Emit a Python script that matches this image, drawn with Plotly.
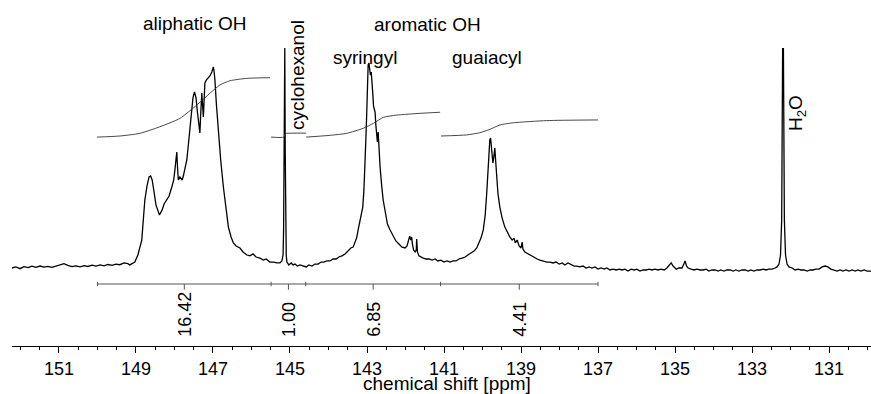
import plotly.graph_objects as go

# ---------------- data (chemical shift in ppm, intensity in arbitrary units) ----------------
ppm = [
    152.22, 152.12, 152.01, 151.91, 151.80, 151.70, 151.60, 151.49, 151.39, 151.29,
    151.18, 151.08, 150.97, 150.87, 150.77, 150.66, 150.56, 150.45, 150.35, 150.25,
    150.14, 150.04, 149.93, 149.83, 149.73, 149.62, 149.52, 149.42, 149.31, 149.21,
    149.16, 149.03, 148.95, 148.85, 148.82, 148.77, 148.71, 148.66, 148.62, 148.58,
    148.53, 148.48, 148.39, 148.32, 148.27, 148.20, 148.14, 148.07, 148.02, 147.99,
    147.94, 147.92, 147.90, 147.86, 147.80, 147.77, 147.73, 147.68, 147.64, 147.60,
    147.56, 147.52, 147.48, 147.44, 147.41, 147.37, 147.34, 147.32, 147.29, 147.27,
    147.25, 147.23, 147.21, 147.17, 147.12, 147.08, 147.03, 147.01, 146.99, 146.97,
    146.95, 146.91, 146.86, 146.80, 146.73, 146.66, 146.60, 146.53, 146.47, 146.40,
    146.30, 146.22, 146.12, 146.04, 145.96, 145.88, 145.78, 145.69, 145.62, 145.52,
    145.42, 145.34, 145.26, 145.21, 145.18, 145.166, 145.155, 145.145, 145.135, 145.124,
    145.114, 145.098, 145.08, 145.03, 144.97, 144.92, 144.87, 144.81, 144.74, 144.66,
    144.58, 144.51, 144.43, 144.35, 144.27, 144.19, 144.12, 144.04, 143.96, 143.88,
    143.80, 143.73, 143.65, 143.57, 143.49, 143.42, 143.36, 143.31, 143.27, 143.23,
    143.19, 143.16, 143.11, 143.08, 143.05, 143.03, 143.01, 142.99, 142.97, 142.95,
    142.93, 142.91, 142.89, 142.87, 142.85, 142.83, 142.81, 142.79, 142.77, 142.75,
    142.73, 142.71, 142.69, 142.66, 142.62, 142.58, 142.52, 142.47, 142.40, 142.32,
    142.25, 142.17, 142.09, 142.01, 141.96, 141.92, 141.89, 141.86, 141.84, 141.82,
    141.79, 141.75, 141.72, 141.71, 141.69, 141.65, 141.60, 141.54, 141.47, 141.39,
    141.31, 141.23, 141.16, 141.08, 141.00, 140.92, 140.84, 140.77, 140.69, 140.61,
    140.53, 140.45, 140.38, 140.30, 140.22, 140.15, 140.09, 140.04, 139.98, 139.93,
    139.89, 139.86, 139.83, 139.81, 139.79, 139.77, 139.73, 139.71, 139.68, 139.66,
    139.63, 139.60, 139.55, 139.49, 139.42, 139.35, 139.29, 139.23, 139.18, 139.15,
    139.10, 139.05, 139.00, 138.97, 138.95, 138.90, 138.82, 138.74, 138.66, 138.58,
    138.51, 138.43, 138.33, 138.25, 138.17, 138.09, 138.01, 137.93, 137.86, 137.78,
    137.70, 137.62, 137.55, 137.47, 137.39, 137.31, 137.23, 137.16, 137.08, 137.00,
    136.92, 136.84, 136.77, 136.69, 136.61, 136.53, 136.45, 136.38, 136.30, 136.22,
    136.14, 136.06, 135.99, 135.91, 135.83, 135.75, 135.67, 135.60, 135.52, 135.44,
    135.36, 135.28, 135.21, 135.16, 135.10, 135.05, 134.97, 134.90, 134.82, 134.77,
    134.74, 134.70, 134.66, 134.58, 134.51, 134.43, 134.35, 134.27, 134.19, 134.12,
    134.04, 133.96, 133.88, 133.81, 133.73, 133.65, 133.57, 133.49, 133.42, 133.34,
    133.26, 133.18, 133.10, 133.03, 132.95, 132.87, 132.79, 132.71, 132.64, 132.56,
    132.48, 132.40, 132.35, 132.30, 132.26, 132.23, 132.22, 132.205, 132.185, 132.175,
    132.16, 132.13, 132.09, 132.04, 131.96, 131.88, 131.80, 131.73, 131.65, 131.57,
    131.49, 131.42, 131.34, 131.26, 131.18, 131.10, 131.03, 130.95, 130.87, 130.79,
    130.71, 130.64, 130.56, 130.48, 130.40, 130.32, 130.25, 130.17, 130.09, 130.01,
    129.91,
]
intensity = [
    0.0, 0.5, -0.3, 0.6, 0.2, 0.8, 0.3, 0.9, 0.4, 0.7,
    0.3, 0.9, 1.5, 2.0, 1.2, 0.6, 1.0, 0.5, 1.1, 0.7,
    1.3, 0.9, 1.4, 1.0, 1.6, 1.2, 1.8, 1.5, 2.3, 2.0,
    1.4, 2.7, 5.9, 12.7, 19.5, 30.9, 37.7, 41.4, 41.8, 40.0,
    34.5, 28.6, 24.1, 26.4, 29.1, 30.9, 32.7, 36.8, 40.0, 44.5,
    52.7, 45.5, 40.0, 41.4, 40.0, 41.8, 44.5, 49.1, 55.9, 62.7,
    70.9, 77.3, 80.0, 77.3, 71.8, 65.0, 61.4, 69.5, 79.5, 74.1,
    68.6, 76.4, 84.1, 85.5, 86.4, 87.3, 89.1, 90.9, 91.4, 89.1,
    85.5, 74.1, 61.4, 49.1, 36.8, 26.4, 18.6, 14.1, 11.4, 10.0,
    9.1, 7.3, 5.9, 5.5, 6.4, 5.0, 4.5, 3.6, 4.1, 2.7,
    2.7, 2.3, 2.3, 3.2, 5.9, 17.3, 53.6, 100.0, 100.0, 53.6,
    17.3, 5.9, 2.7, 1.4, 2.3, 1.4, 1.8, 0.9, 1.4, 0.9,
    0.5, 1.4, 0.9, 1.8, 1.8, 2.7, 2.7, 3.2, 3.2, 4.1,
    4.1, 5.0, 5.5, 6.4, 7.7, 9.1, 9.5, 11.8, 13.6, 17.3,
    20.9, 24.1, 27.7, 35.5, 45.9, 58.2, 68.6, 83.2, 92.3, 93.2,
    90.0, 87.7, 89.1, 85.5, 79.5, 73.6, 72.7, 70.9, 65.0, 60.5,
    57.3, 61.8, 53.6, 45.9, 37.7, 30.9, 25.0, 20.0, 17.3, 14.5,
    12.3, 10.9, 9.5, 9.1, 10.0, 12.7, 14.5, 12.7, 14.1, 10.9,
    8.2, 7.3, 8.2, 13.2, 7.3, 5.5, 5.0, 4.5, 4.1, 4.1,
    3.6, 4.1, 3.2, 3.6, 2.7, 3.2, 2.7, 3.2, 3.2, 4.1,
    4.5, 5.0, 5.9, 6.8, 7.7, 9.1, 11.4, 13.6, 17.3, 24.1,
    34.1, 44.5, 53.6, 58.2, 59.1, 54.5, 47.7, 50.0, 54.5, 49.1,
    41.4, 34.1, 27.7, 22.7, 18.6, 15.9, 14.1, 12.7, 13.6, 11.4,
    12.7, 10.0, 9.1, 11.8, 8.6, 7.3, 6.4, 5.5, 5.0, 4.1,
    3.6, 3.2, 2.7, 2.7, 2.3, 2.7, 1.8, 2.3, 1.4, 2.3,
    1.4, 0.9, 0.9, 0.5, 0.9, 0.0, 0.5, 0.0, 0.5, -0.5,
    0.0, -0.5, 0.0, -0.9, -0.5, -0.9, -0.5, -0.9, -0.5, -1.4,
    -0.5, -0.9, -0.5, -1.4, -0.9, -0.9, -0.5, -0.9, -0.5, -0.9,
    -0.5, -0.9, 0.0, 0.9, 2.3, 0.9, -0.5, 0.0, 0.0, 1.8,
    3.2, 0.9, 0.0, -0.5, -0.9, -0.5, -0.9, -0.9, -0.5, -1.4,
    -0.9, -0.9, -1.4, -0.9, -1.4, -0.9, -0.9, -1.4, -0.9, -1.4,
    -0.9, -0.9, -1.4, -0.9, -1.4, -0.9, -0.9, -0.5, -0.9, -0.5,
    -0.5, 0.0, 0.5, 1.8, 5.9, 21.8, 67.0, 100.0, 100.0, 67.0,
    21.8, 5.9, 1.8, 0.5, 0.0, -0.9, -0.5, -0.9, -0.9, -1.4,
    -0.9, -0.9, -0.5, -0.5, 0.5, 0.9, 0.5, -0.5, -0.9, -1.4,
    -0.9, -1.4, -0.9, -1.4, -0.9, -1.4, -0.9, -1.4, -0.9, -1.4,
    -1.4,
]

# integral curves
int_ali_ppm = [150.01, 149.42, 148.90, 148.38, 147.86, 147.42, 147.08, 146.82, 146.56, 146.12, 145.52]
int_ali_val = [59.5, 60.0, 61.2, 64.2, 68.0, 74.1, 79.4, 83.2, 85.1, 86.2, 86.5]
int_cyc_ppm = [145.49, 145.16, 145.13, 145.10, 144.58]
int_cyc_val = [59.5, 59.5, 61.0, 61.2, 61.3]
int_syr_ppm = [144.58, 143.96, 143.53, 143.10, 142.83, 142.57, 142.23, 141.62, 141.10]
int_syr_val = [59.5, 60.3, 61.2, 63.5, 65.8, 68.5, 69.5, 70.3, 70.8]
int_gua_ppm = [141.08, 140.41, 140.07, 139.81, 139.55, 139.20, 138.33, 137.00]
int_gua_val = [60.0, 60.5, 61.5, 63.0, 65.0, 66.0, 67.0, 67.3]

region_edges = [150.0, 145.49, 144.59, 141.09, 137.0]
integral_labels = ["16.42", "1.00", "6.85", "4.41"]

tick_values = [151, 149, 147, 145, 143, 141, 139, 137, 135, 133, 131]

# ---------------- figure ----------------
FONT = "Liberation Sans, Arial, sans-serif"
fig = go.Figure()

fig.add_trace(go.Scatter(x=ppm, y=intensity, mode="lines",
                         line=dict(color="black", width=1.3), hoverinfo="skip"))

for xs, ys in [(int_ali_ppm, int_ali_val), (int_cyc_ppm, int_cyc_val),
               (int_syr_ppm, int_syr_val), (int_gua_ppm, int_gua_val)]:
    fig.add_trace(go.Scatter(x=xs, y=ys, mode="lines", line=dict(color="#333333", width=0.9,
                             shape="spline", smoothing=0.6), hoverinfo="skip"))

# integral bar with ticks
BAR_Y = -7.27
bx, by = [region_edges[0], region_edges[-1], None], [BAR_Y, BAR_Y, None]
for e in region_edges:
    bx += [e, e, None]
    by += [BAR_Y + 1.0, BAR_Y - 1.0, None]
mids = [(region_edges[i] + region_edges[i + 1]) / 2 for i in range(len(region_edges) - 1)]
for m in mids:
    bx += [m, m, None]
    by += [BAR_Y, BAR_Y - 2.6, None]
fig.add_trace(go.Scatter(x=bx, y=by, mode="lines", line=dict(color="#555555", width=1),
                         hoverinfo="skip"))

PLOT_TOP, PLOT_BOT = 48, 346


def py(px):
    return (PLOT_BOT - px) / (PLOT_BOT - PLOT_TOP)


annotations = []
for m, lab in zip(mids, integral_labels):
    annotations.append(dict(x=m, y=py(339), xref="x", yref="paper", text=lab, textangle=-90,
                            showarrow=False, xanchor="center", yanchor="bottom",
                            font=dict(size=18, color="black", family=FONT)))

text_labels = [
    ("aliphatic OH", 147.47, 24, 0),
    ("aromatic OH", 141.42, 25, 0),
    ("syringyl", 143.05, 57, 0),
    ("guaiacyl", 139.88, 57, 0),
    ("cyclohexanol", 144.82, 75, -90),
    ("H<sub>2</sub>O", 131.83, 113, -90),
]
for t, x, y, ang in text_labels:
    annotations.append(dict(x=x, y=py(y), xref="x", yref="paper", text=t, textangle=ang,
                            showarrow=False, xanchor="center", yanchor="middle",
                            font=dict(size=19, color="black", family=FONT)))

annotations.append(dict(x=140.92, y=py(383), xref="x", yref="paper", text="chemical shift [ppm]",
                        showarrow=False, xanchor="center", yanchor="middle",
                        font=dict(size=19, color="black", family=FONT)))

fig.update_layout(
    width=871, height=394,
    margin=dict(l=12, r=0, t=PLOT_TOP, b=394 - PLOT_BOT, pad=0),
    paper_bgcolor="white", plot_bgcolor="white",
    showlegend=False,
    annotations=annotations,
    xaxis=dict(range=[152.22, 129.91], showgrid=False, zeroline=False,
               showline=True, linecolor="black", linewidth=1,
               ticks="outside", ticklen=6, tickwidth=1, tickcolor="black",
               tickmode="array", tickvals=tick_values, ticktext=[str(v) for v in tick_values],
               tickfont=dict(size=18, color="black", family=FONT),
               minor=dict(ticks="outside", ticklen=3, tickwidth=1, tickcolor="black",
                          dtick=0.5, tick0=131, showgrid=False)),
    yaxis=dict(range=[-35.45, 100], visible=False, showgrid=False, zeroline=False),
)

fig.write_html("out.html")
